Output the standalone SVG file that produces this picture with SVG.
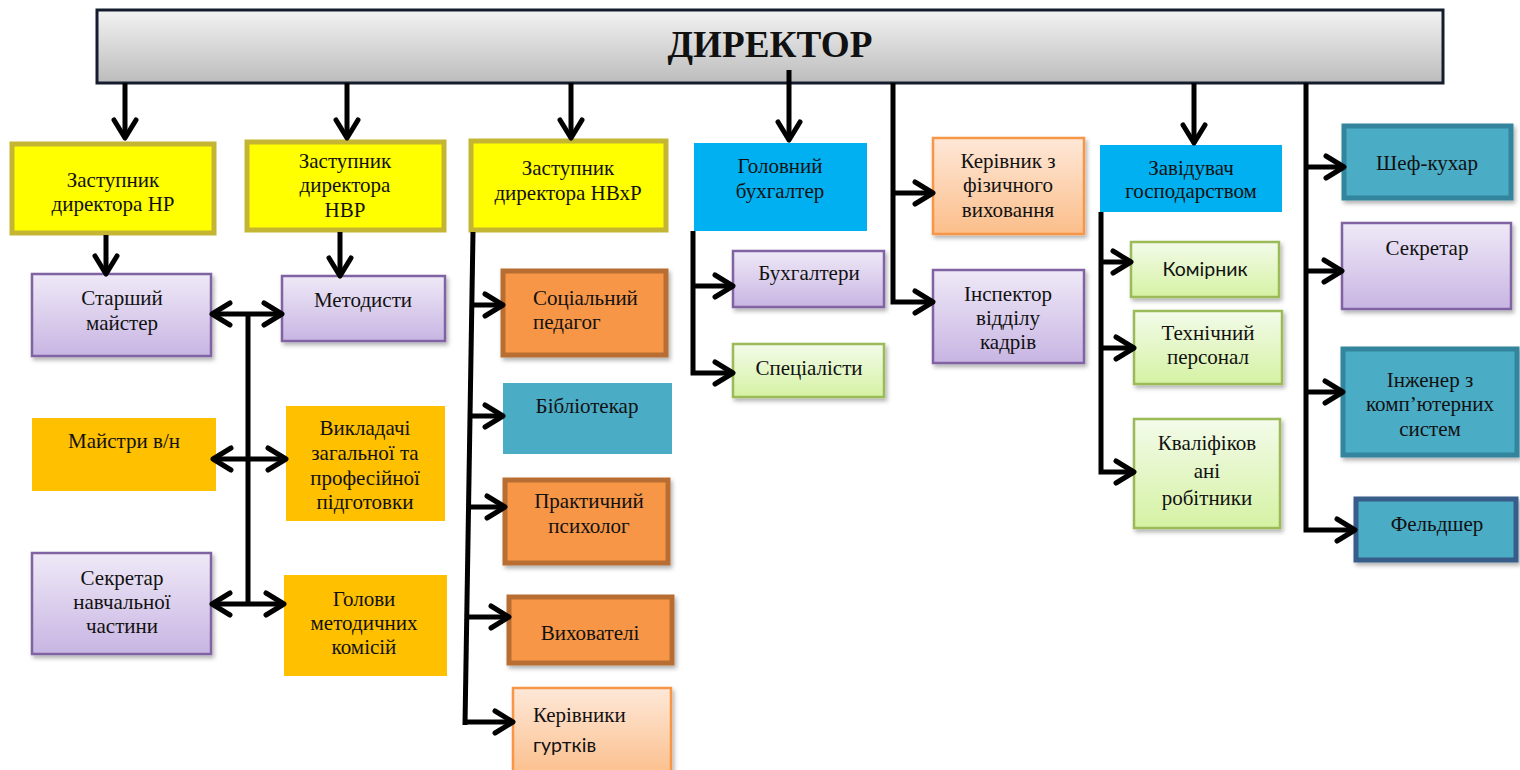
<svg xmlns="http://www.w3.org/2000/svg" width="1520" height="770" viewBox="0 0 1520 770">
<defs>
<linearGradient id="gGrey" x1="0" y1="0" x2="0" y2="1"><stop offset="0" stop-color="#f3f3f3"/><stop offset="1" stop-color="#bcbcbc"/></linearGradient>
<linearGradient id="gPurple" x1="0" y1="0" x2="0" y2="1"><stop offset="0" stop-color="#efe9f7"/><stop offset="1" stop-color="#c8b5e3"/></linearGradient>
<linearGradient id="gGreen" x1="0" y1="0" x2="0" y2="1"><stop offset="0" stop-color="#f3fbea"/><stop offset="1" stop-color="#d5f2a3"/></linearGradient>
<linearGradient id="gPeach" x1="0" y1="0" x2="0" y2="1"><stop offset="0" stop-color="#fee8d8"/><stop offset="1" stop-color="#fbbe8a"/></linearGradient>
<filter id="sh" x="-10%" y="-10%" width="125%" height="130%"><feDropShadow dx="2" dy="3" stdDeviation="2" flood-color="#000" flood-opacity="0.3"/></filter>
<marker id="arr" viewBox="0 0 24 28" markerWidth="24" markerHeight="28" refX="21" refY="14" markerUnits="userSpaceOnUse" orient="auto-start-reverse">
<path d="M3,3 L21,14 L3,25" fill="none" stroke="#000" stroke-width="5" stroke-linecap="round" stroke-linejoin="round"/>
</marker>
</defs>
<style>
.t{font-family:"Liberation Serif","Times New Roman",serif;font-size:21px;fill:#111;text-anchor:middle}
.s{font-family:Lato,"Liberation Sans",sans-serif;font-size:19.5px;fill:#111}
.l{text-anchor:start}
.yel{fill:#ffff00;stroke:#c4b532;stroke-width:5}
.blu{fill:#00b0f0}
.gold{fill:#ffc000}
.teal{fill:#4bacc6}
.tealb{fill:#4bacc6;stroke:#31859c;stroke-width:5;filter:url(#sh)}
.org{fill:#f79646;stroke:#b86e30;stroke-width:5;filter:url(#sh)}
.pur{fill:url(#gPurple);stroke:#8064a2;stroke-width:2.5;filter:url(#sh)}
.grn{fill:url(#gGreen);stroke:#9bbb59;stroke-width:2.5;filter:url(#sh)}
.pch{fill:url(#gPeach);stroke:#f79646;stroke-width:2.5;filter:url(#sh)}
.c{fill:none;stroke:#000;stroke-width:5}
.a{marker-end:url(#arr)}
.d{marker-start:url(#arr);marker-end:url(#arr)}
</style>
<rect width="1520" height="770" fill="#fff"/>

<g id="director">
<rect x="97" y="10" width="1346" height="73" fill="url(#gGrey)" stroke="#141c2e" stroke-width="3"/>
<text x="770" y="57" style="font-family:'Liberation Serif','Times New Roman',serif;font-size:38px;font-weight:bold;fill:#111;text-anchor:middle" textLength="205" lengthAdjust="spacingAndGlyphs">ДИРЕКТОР</text>
</g>

<g id="zast-nr"><rect class="yel" x="12" y="144" width="202" height="89"/>
<text class="t" x="113" y="187">Заступник</text><text class="t" x="113" y="211">директора НР</text></g>
<g id="zast-nvr"><rect class="yel" x="247" y="142" width="197" height="88"/>
<text class="t" x="345" y="168">Заступник</text><text class="t" x="345" y="192">директора</text><text class="t" x="345" y="217">НВР</text></g>
<g id="zast-nvxr"><rect class="yel" x="471" y="141" width="195" height="89"/>
<text class="t" x="568" y="175">Заступник</text><text class="t" x="568" y="200">директора НВхР</text></g>
<g id="gol-buh"><rect class="blu" x="694" y="143" width="173" height="88"/>
<text class="t" x="780" y="173">Головний</text><text class="t" x="780" y="198">бухгалтер</text></g>
<g id="ker-fiz"><rect class="pch" x="933" y="138" width="151" height="96"/>
<text class="t" x="1008" y="168">Керівник з</text><text class="t" x="1008" y="192">фізичного</text><text class="t" x="1008" y="217">виховання</text></g>
<g id="zav-gosp"><rect class="blu" x="1100" y="145" width="182" height="67"/>
<text class="t" x="1191" y="175">Завідувач</text><text class="t" x="1191" y="198">господарством</text></g>
<g id="shef"><rect class="tealb" x="1344" y="126" width="167" height="72"/>
<text class="t" x="1427" y="170">Шеф-кухар</text></g>
<g id="sekretar"><rect class="pur" x="1342" y="223" width="169" height="86"/>
<text class="t" x="1427" y="255">Секретар</text></g>
<g id="inzhener"><rect class="tealb" x="1343" y="349" width="174" height="106"/>
<text class="t" x="1430" y="387">Інженер з</text><text class="t" x="1430" y="411">комп’ютерних</text><text class="t" x="1430" y="436">систем</text></g>
<g id="feldsher"><rect class="tealb" x="1356" y="499" width="160" height="61" style="stroke:#385d8a"/>
<text class="t" x="1437" y="531">Фельдшер</text></g>

<g id="star-mayster"><rect class="pur" x="32" y="274" width="179" height="82"/>
<text class="t" x="122" y="305">Старший</text><text class="t" x="122" y="330">майстер</text></g>
<g id="metodysty"><rect class="pur" x="282" y="276" width="163" height="65"/>
<text class="t" x="363" y="307">Методисти</text></g>
<g id="maystry"><rect class="gold" x="32" y="418" width="184" height="73"/>
<text class="t" x="124" y="448">Майстри в/н</text></g>
<g id="vykladachi"><rect class="gold" x="286" y="406" width="159" height="115"/>
<text class="t" x="365" y="435">Викладачі</text><text class="t" x="365" y="460">загальної та</text><text class="t" x="365" y="485">професійної</text><text class="t" x="365" y="509">підготовки</text></g>
<g id="sekr-nav"><rect class="pur" x="32" y="553" width="179" height="101"/>
<text class="t" x="122" y="585">Секретар</text><text class="t" x="122" y="609">навчальної</text><text class="t" x="122" y="633">частини</text></g>
<g id="holovy"><rect class="gold" x="284" y="575" width="163" height="101"/>
<text class="t" x="364" y="606">Голови</text><text class="t" x="364" y="630">методичних</text><text class="t" x="364" y="654">комісій</text></g>

<g id="soc-ped"><rect class="org" x="503" y="271" width="163" height="84"/>
<text class="t l" x="533" y="305">Соціальний</text><text class="t l" x="533" y="329">педагог</text></g>
<g id="bibliotekar"><rect class="teal" x="503" y="383" width="169" height="71"/>
<text class="t" x="587" y="413">Бібліотекар</text></g>
<g id="psyholog"><rect class="org" x="505" y="480" width="163" height="83"/>
<text class="t" x="589" y="508">Практичний</text><text class="t" x="589" y="533">психолог</text></g>
<g id="vyhovateli"><rect class="org" x="509" y="597" width="163" height="66"/>
<text class="t" x="590" y="640">Вихователі</text></g>
<g id="gurtky"><rect class="pch" x="513" y="688" width="158" height="90"/>
<text class="t l" x="533" y="722">Керівники</text><text class="s" x="533" y="752">гуртків</text></g>

<g id="buhgaltery"><rect class="pur" x="733" y="251" width="151" height="56"/>
<text class="t" x="809" y="280">Бухгалтери</text></g>
<g id="specialisty"><rect class="grn" x="733" y="344" width="151" height="53"/>
<text class="t" x="809" y="375">Спеціалісти</text></g>
<g id="inspektor"><rect class="pur" x="933" y="270" width="151" height="93"/>
<text class="t" x="1008" y="301">Інспектор</text><text class="t" x="1008" y="325">відділу</text><text class="t" x="1008" y="349">кадрів</text></g>
<g id="komirnyk"><rect class="grn" x="1131" y="242" width="148" height="55"/>
<text class="s" x="1205" y="276" text-anchor="middle">Комірник</text></g>
<g id="tehnichnyi"><rect class="grn" x="1134" y="311" width="148" height="73"/>
<text class="t" x="1208" y="340">Технічний</text><text class="t" x="1208" y="364">персонал</text></g>
<g id="kvalifik"><rect class="grn" x="1134" y="419" width="146" height="109"/>
<text class="t" x="1207" y="450">Кваліфіков</text><text class="t" x="1207" y="478">ані</text><text class="t" x="1207" y="505">робітники</text></g>

<g id="connectors">
<path class="c a" d="M125,83 V138"/>
<path class="c a" d="M347,83 V138"/>
<path class="c a" d="M571,83 V138"/>
<path class="c a" d="M789,70 V140"/>
<path class="c a" d="M1194,83 V143"/>
<path class="c a" d="M893,83 V302 H933"/>
<path class="c a" d="M893,193 H933"/>
<path class="c a" d="M1306,83 V530 H1355"/>
<path class="c a" d="M1306,167 H1344"/>
<path class="c a" d="M1306,271 H1342"/>
<path class="c a" d="M1306,392 H1343"/>
<path class="c a" d="M106,235 V274"/>
<path class="c a" d="M340,232 V276"/>
<path class="c" d="M248,312 V605"/>
<path class="c d" d="M212,314 H282"/>
<path class="c d" d="M213,459 H286"/>
<path class="c d" d="M212,604 H284"/>
<path class="c" d="M473,232 L465,725"/>
<path class="c a" d="M471,305 H503"/>
<path class="c a" d="M470,416 H503"/>
<path class="c a" d="M469,507 H505"/>
<path class="c a" d="M467,617 H509"/>
<path class="c a" d="M465,722 H513"/>
<path class="c a" d="M693,231 V373 H733"/>
<path class="c a" d="M693,286 H733"/>
<path class="c a" d="M1101,212 V472 H1134"/>
<path class="c a" d="M1101,262 H1131"/>
<path class="c a" d="M1101,348 H1134"/>
</g>
</svg>
